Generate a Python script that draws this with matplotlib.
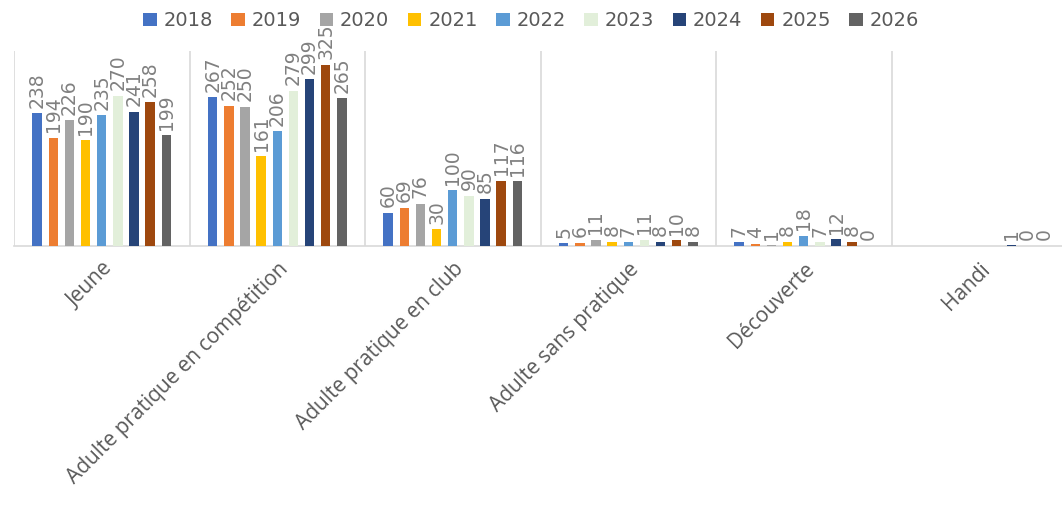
import numpy as np
import matplotlib
matplotlib.use("Agg")
import matplotlib.pyplot as plt

# catégories et valeurs par année
categories = ["Jeune", "Adulte pratique en compétition", "Adulte pratique en club",
              "Adulte sans pratique", "Découverte", "Handi"]
years = ["2018", "2019", "2020", "2021", "2022", "2023", "2024", "2025", "2026"]

v2018 = [238, 267, 60, 5, 7, np.nan]
v2019 = [194, 252, 69, 6, 4, np.nan]
v2020 = [226, 250, 76, 11, 1, np.nan]
v2021 = [190, 161, 30, 8, 8, np.nan]
v2022 = [235, 206, 100, 7, 18, np.nan]
v2023 = [270, 279, 90, 11, 7, np.nan]
v2024 = [241, 299, 85, 8, 12, 1]
v2025 = [258, 325, 117, 10, 8, 0]
v2026 = [199, 265, 116, 8, 0, 0]
series = [v2018, v2019, v2020, v2021, v2022, v2023, v2024, v2025, v2026]

colors = ["#4472C4", "#ED7D31", "#A5A5A5", "#FFC000", "#5B9BD5",
          "#E2EFDA", "#264478", "#9E480E", "#636363"]

fig = plt.figure(figsize=(10.62, 5.31), dpi=100)
ax = fig.add_axes([14 / 1062, 1 - 246 / 531, 1053 / 1062, 195 / 531])

x = np.arange(len(categories))
step = 0.092
width = 0.054
for i, (vals, c, yr) in enumerate(zip(series, colors, years)):
    pos = x + (i - 4) * step
    ax.bar(pos, vals, width=width, color=c, label=yr, zorder=3)
    for p, v in zip(pos, vals):
        if np.isnan(v):
            continue
        ax.annotate(f"{int(v)}", (p, v), xytext=(0, 4), textcoords="offset points",
                    rotation=90, ha="center", va="bottom", fontsize=13.5, color="#808080")

ax.set_xlim(-0.5, len(categories) - 0.5)
ax.set_ylim(0, 350)
ax.set_yticks([])
for k in range(len(categories) + 1):
    ax.axvline(k - 0.5, color="#D9D9D9", lw=1.2, zorder=1)
for s in ["top", "right", "left"]:
    ax.spines[s].set_visible(False)
ax.spines["bottom"].set_color("#D9D9D9")
ax.spines["bottom"].set_linewidth(1.2)

ax.set_xticks(x)
ax.set_xticklabels(categories, rotation=45, ha="right", rotation_mode="anchor",
                   fontsize=15, color="#595959", family="Open Sans")
ax.tick_params(axis="x", length=0, pad=9)

fig.legend(loc="upper center", bbox_to_anchor=(0.5, 1.012), ncol=9, frameon=False,
           fontsize=14, handlelength=0.7, handleheight=0.7, handletextpad=0.35,
           columnspacing=0.95, labelcolor="#595959")

fig.savefig("out.png", dpi=100)
